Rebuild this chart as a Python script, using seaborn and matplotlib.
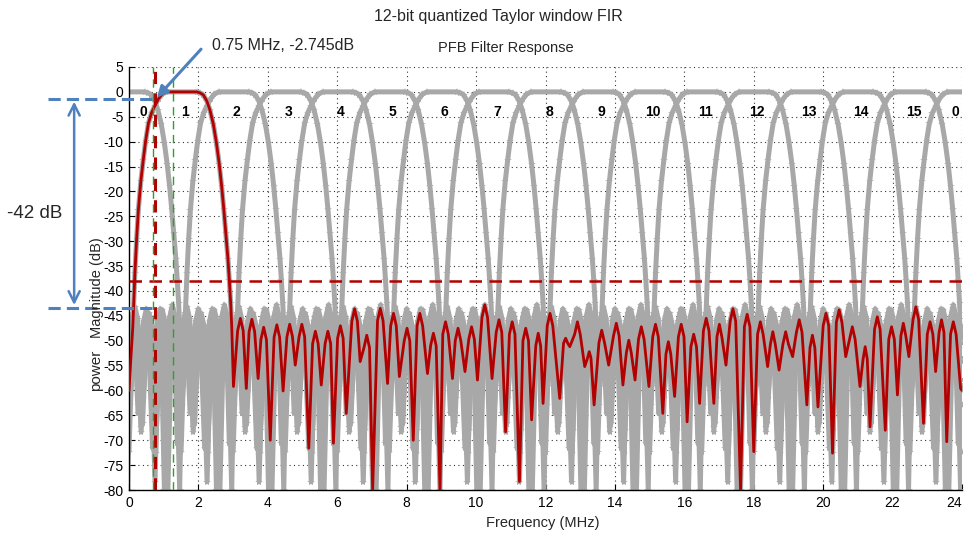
import numpy as np
import pandas as pd
import matplotlib
matplotlib.use("Agg")
import matplotlib.pyplot as plt
import seaborn as sns

# ---- PFB prototype response of channel 1 (MHz, dB) ----
# pass band
main_mhz = [0.00, 0.05, 0.11, 0.17, 0.22, 0.27, 0.34, 0.41, 0.48, 0.56, 0.65, 0.75,
            0.85, 0.95, 1.08, 1.95, 2.05, 2.14, 2.24, 2.33, 2.43, 2.52, 2.60,
            2.67, 2.73, 2.79, 2.85, 2.89, 2.93, 2.96, 3.01]
main_db = [-60.0, -54.0, -47.2, -36.4, -29.5, -23.7, -18.0, -13.7, -9.8, -6.3, -4.2, -2.745,
           -1.4, -0.5, 0.0, 0.0, -0.2, -0.6, -1.8, -3.6, -6.5, -10.3, -14.5,
           -19.0, -23.5, -28.4, -33.5, -37.8, -42.5, -47.2, -59.2]
# stop band side lobes
side_mhz = [
    3.13, 3.21, 3.29, 3.38,  3.46, 3.54, 3.62, 3.72,  3.80, 3.88, 3.96, 4.07,
    4.18, 4.26, 4.34, 4.44,  4.55, 4.63, 4.71, 4.79,  4.90, 4.98, 5.06, 5.18,
    5.29, 5.37, 5.45, 5.54,  5.65, 5.73, 5.81, 5.89,  6.01, 6.09, 6.17, 6.26,
    6.42, 6.50, 6.58, 6.66,  6.77, 6.85, 6.93, 7.02,  7.16, 7.24, 7.32, 7.45,
    7.54, 7.62, 7.70, 7.79,  7.93, 8.01, 8.09, 8.19,  8.30, 8.38, 8.46, 8.60,
    8.69, 8.77, 8.85, 8.96,  9.04, 9.12, 9.20, 9.32,  9.40, 9.48, 9.56, 9.68,
    9.79, 9.87, 9.95, 10.04,  10.17, 10.25, 10.33, 10.46,  10.58, 10.66, 10.74, 10.85,
    10.96, 11.04, 11.12, 11.25,  11.35, 11.43, 11.51, 11.60,  11.72, 11.79, 11.86, 11.93,
    12.05, 12.13, 12.21, 12.41,  12.52, 12.58, 12.64, 12.70,  12.84, 12.92, 13.00, 13.13,
    13.21, 13.26, 13.31, 13.40,  13.54, 13.62, 13.70, 13.82,  13.96, 14.04, 14.12, 14.23,
    14.33, 14.40, 14.47, 14.58,  14.68, 14.76, 14.84, 14.98,  15.09, 15.17, 15.25, 15.38,
    15.47, 15.54, 15.61, 15.72,  15.83, 15.91, 15.99, 16.08,  16.19, 16.27, 16.35, 16.44,
    16.55, 16.63, 16.71, 16.85,  16.94, 17.01, 17.08, 17.20,  17.32, 17.40, 17.48, 17.62,
    17.73, 17.81, 17.89, 18.00,  18.11, 18.19, 18.27, 18.40,  18.48, 18.55, 18.62, 18.73,
    18.84, 18.92, 19.00, 19.12,  19.23, 19.31, 19.39, 19.53,  19.62, 19.69, 19.76, 19.85,
    20.00, 20.08, 20.16, 20.27,  20.38, 20.46, 20.54, 20.65,  20.76, 20.84, 20.92, 21.06,
    21.15, 21.21, 21.27, 21.35,  21.48, 21.56, 21.64, 21.79,  21.89, 21.97, 22.05, 22.14,
    22.24, 22.31, 22.38, 22.47,  22.59, 22.67, 22.75, 22.89,  23.00, 23.08, 23.16, 23.24,
    23.34, 23.41, 23.48, 23.56,  23.67, 23.75, 23.83, 23.96,  24.00,
]
side_db = [
    -48.0, -45.5, -48.0, -59.6,  -48.2, -45.7, -48.2, -57.6,  -49.8, -47.3, -49.8, -70.0,
    -49.3, -46.8, -49.3, -60.1,  -49.2, -46.7, -49.2, -54.9,  -49.2, -46.7, -49.2, -71.6,
    -50.6, -48.1, -50.6, -58.9,  -50.6, -48.1, -50.6, -70.6,  -49.5, -47.0, -49.5, -64.6,
    -46.1, -43.6, -46.1, -54.2,  -51.4, -48.9, -51.4, -80.0,  -46.0, -43.5, -46.0, -58.6,
    -47.0, -44.5, -47.0, -57.2,  -50.0, -47.5, -50.0, -70.0,  -47.0, -44.5, -47.0, -56.6,
    -51.0, -48.5, -51.0, -80.0,  -48.7, -46.2, -48.7, -57.6,  -50.0, -47.5, -50.0, -56.2,
    -49.7, -47.2, -49.7, -57.9,  -45.3, -42.8, -45.3, -57.6,  -48.3, -45.8, -48.3, -68.3,
    -48.7, -46.2, -48.7, -78.3,  -50.0, -47.5, -50.0, -65.9,  -51.0, -48.5, -51.0, -62.6,
    -47.0, -44.5, -47.0, -61.6,  -50.5, -49.5, -50.5, -51.2,  -48.7, -46.2, -48.7, -55.2,
    -53.5, -52.2, -53.5, -62.9,  -50.4, -47.9, -50.4, -54.9,  -49.0, -46.5, -49.0, -58.9,
    -52.4, -49.9, -52.4, -57.9,  -49.7, -47.2, -49.7, -59.2,  -49.2, -46.7, -49.2, -64.6,
    -52.7, -50.2, -52.7, -61.2,  -49.2, -46.7, -49.2, -66.3,  -51.2, -48.7, -51.2, -62.6,
    -48.0, -45.5, -48.0, -62.6,  -49.2, -46.7, -49.2, -54.9,  -46.1, -43.6, -46.1, -80.0,
    -47.2, -44.7, -47.2, -72.3,  -48.7, -46.2, -48.7, -55.2,  -50.7, -48.2, -50.7, -55.9,
    -50.7, -48.2, -50.7, -53.2,  -48.3, -45.8, -48.3, -62.9,  -51.4, -48.9, -51.4, -63.3,
    -47.0, -44.5, -47.0, -72.6,  -46.3, -43.8, -46.3, -53.2,  -49.7, -47.2, -49.7, -59.2,
    -53.7, -51.2, -53.7, -67.3,  -47.7, -45.2, -47.7, -68.0,  -49.7, -47.2, -49.7, -60.9,
    -49.0, -46.5, -49.0, -53.2,  -45.7, -43.2, -45.7, -66.6,  -48.7, -46.2, -48.7, -56.2,
    -48.3, -45.8, -48.3, -70.3,  -48.7, -46.2, -48.7, -59.6,  -60.0,
]

N_CHANNELS = 16
BANDWIDTH_MHZ = 24.0
RED_CHANNEL = 1

CUTOFF_MHZ = 0.75
CUTOFF_DB = -2.745
GUARD_MHZ = [0.68, 1.28]
THRESHOLD_DB = -38.0
SPAN_TOP_DB = -1.4
SPAN_DB = 42

RED = "#b30000"
GREY = "#a8a8a8"
BLUE = "#4f81bd"
GREEN = "#2ca02c"

sns.set_theme(style="white")
plt.rcParams["font.family"] = ["Liberation Sans Narrow", "Liberation Sans", "DejaVu Sans"]
plt.rcParams["axes.unicode_minus"] = False

# ---- every channel is a shifted copy of the prototype response ----
spacing = BANDWIDTH_MHZ / N_CHANNELS
proto = pd.DataFrame({"freq": main_mhz + side_mhz, "db": main_db + side_db})
frames = []
unit = 0
for ch in range(N_CHANNELS):
    shift = spacing * (ch - RED_CHANNEL)
    for wrap in (0.0, -BANDWIDTH_MHZ, BANDWIDTH_MHZ):
        d = proto.copy()
        d["freq"] = d["freq"] + shift + wrap
        if d["freq"].max() < 0 or d["freq"].min() > BANDWIDTH_MHZ:
            continue
        d["unit"] = unit
        frames.append(d)
        unit += 1
bank = pd.concat(frames, ignore_index=True)

fig = plt.figure(figsize=(9.64, 5.33), dpi=100)
ax = fig.add_axes([129 / 964, 1 - 490 / 533, (962 - 129) / 964, (490 - 67) / 533])

sns.lineplot(data=bank, x="freq", y="db", units="unit", estimator=None,
             color=GREY, lw=3.6, marker="*", markersize=6, markeredgewidth=0,
             ax=ax, zorder=2, sort=False)
sns.lineplot(data=proto, x="freq", y="db", estimator=None, color=RED, lw=2.0,
             ax=ax, zorder=4, sort=False)

ax.set_xlim(0, BANDWIDTH_MHZ)
ax.set_ylim(-80, 5)
ax.set_xticks(np.arange(0, 25, 2))
ax.set_yticks(np.arange(-80, 6, 5))
ax.grid(True, color="black", linestyle=(0, (1, 3)), linewidth=0.8, alpha=0.8)
for g in ax.get_xgridlines() + ax.get_ygridlines():
    g.set_zorder(1.5)
ax.tick_params(direction="in", length=4, width=0.8, labelsize=10, colors="black",
               pad=4, left=True, bottom=True)
for s in ("top", "right"):
    ax.spines[s].set_visible(False)
for s in ("left", "bottom"):
    ax.spines[s].set_color("black")
    ax.spines[s].set_linewidth(1.0)
ax.set_xlabel("")
ax.set_ylabel("")
fig.canvas.draw()
last = ax.get_xticklabels()[-1]
last.set_horizontalalignment("right")
last.set_x(BANDWIDTH_MHZ + 0.02)

# marker lines
ax.axhline(THRESHOLD_DB, color=RED, ls=(0, (5, 3)), lw=1.8, zorder=5)
ax.axvline(CUTOFF_MHZ, color=RED, ls=(0, (4, 3)), lw=2.2, zorder=5)
for g in GUARD_MHZ:
    ax.axvline(g, color=GREEN, ls=(0, (6, 4)), lw=1.0, zorder=5)

# channel numbers
for ch in range(N_CHANNELS + 1):
    cx = min(max(spacing * ch + 0.1, 0.4), BANDWIDTH_MHZ - 0.2)
    ax.text(cx, -4.0, str(ch % N_CHANNELS), ha="center", va="center",
            fontsize=10, fontweight="bold", color="black", zorder=6)

# cut-off annotation
ax.annotate("", xy=(CUTOFF_MHZ, CUTOFF_DB + 1.2), xytext=(2.13, 9.0),
            arrowprops=dict(arrowstyle="-|>", color=BLUE, lw=2.2, mutation_scale=16),
            annotation_clip=False, zorder=7)
fig.text(212 / 964, 1 - 46 / 533, f"{CUTOFF_MHZ} MHz, {CUTOFF_DB}dB",
         ha="left", va="center", fontsize=11.5, family="Liberation Sans")

# stop-band span
span_bottom = SPAN_TOP_DB - SPAN_DB
for lvl in (SPAN_TOP_DB, span_bottom):
    ax.plot([-2.33, 0.69], [lvl, lvl], color=BLUE, ls=(0, (4, 2)), lw=2.2,
            clip_on=False, zorder=7)
ax.annotate("", xy=(-1.58, SPAN_TOP_DB), xytext=(-1.58, span_bottom),
            arrowprops=dict(arrowstyle="<->", color=BLUE, lw=1.8, mutation_scale=20),
            annotation_clip=False)
fig.text(35 / 964, 1 - 214 / 533, f"-{SPAN_DB} dB", ha="center", va="center",
         fontsize=13.5, family="Liberation Sans")

# titles and axis labels
fig.text(498 / 964, 1 - 16 / 533, "12-bit quantized Taylor window FIR",
         ha="center", va="center", fontsize=11.5, family="Liberation Sans")
fig.text(506 / 964, 1 - 48 / 533, "PFB Filter Response", ha="center", va="center",
         fontsize=10.5)
fig.text(543 / 964, 1 - 523 / 533, "Frequency (MHz)", ha="center", va="center",
         fontsize=10.5)
fig.text(97 / 964, 1 - 288 / 533, "Magnitude (dB)", ha="center", va="center",
         rotation=90, fontsize=10.5)
fig.text(96 / 964, 1 - 370 / 533, "power", ha="center", va="center",
         rotation=90, fontsize=11, family="Liberation Sans")

fig.savefig("out.png", dpi=100)
